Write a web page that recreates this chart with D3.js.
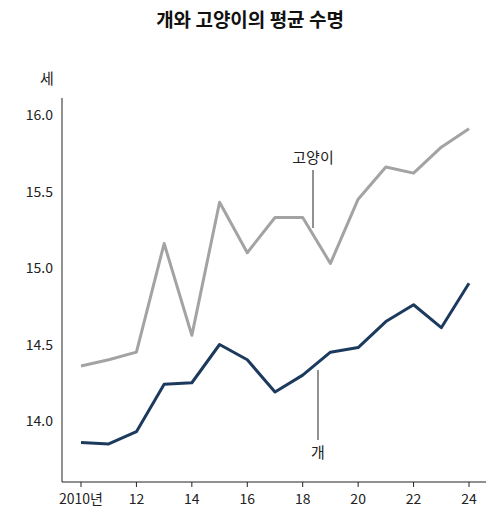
<!DOCTYPE html><html><head><meta charset="utf-8"><script src="https://cdn.jsdelivr.net/npm/d3@7"></script>
<style>body{margin:0;background:#fff;font-family:"Noto Sans CJK KR","Noto Sans",sans-serif}</style></head><body><svg id="c" width="500" height="518"></svg>
<script>
const years=[2010,2011,2012,2013,2014,2015,2016,2017,2018,2019,2020,2021,2022,2023,2024];
const cat=[14.36,14.40,14.45,15.16,14.56,15.43,15.10,15.33,15.33,15.03,15.45,15.66,15.62,15.79,15.91];
const dog=[13.86,13.85,13.93,14.24,14.25,14.50,14.40,14.19,14.30,14.45,14.48,14.65,14.76,14.61,14.90];
const yTicks=[14.0,14.5,15.0,15.5,16.0];
const xTicks=[2010,2012,2014,2016,2018,2020,2022,2024];
const svg=d3.select("#c");
const x=d3.scaleLinear().domain([2010,2024]).range([81,469]);
const y=d3.scaleLinear().domain([14,16]).range([421,115]);
svg.append("text").attr("x",250).attr("y",27).attr("text-anchor","middle").attr("font-size",19).attr("font-weight","bold").attr("fill","#111").text("개와 고양이의 평균 수명");
svg.append("text").attr("x",40).attr("y",84).attr("font-size",15).attr("fill","#222").text("세");
svg.append("line").attr("x1",62).attr("x2",62).attr("y1",98).attr("y2",482).attr("stroke","#222");
svg.append("line").attr("x1",62).attr("x2",486).attr("y1",482).attr("y2",482).attr("stroke","#222");
yTicks.forEach(t=>svg.append("text").attr("x",53).attr("y",y(t)+5).attr("text-anchor","end").attr("font-size",14).attr("fill","#222").text(t.toFixed(1)));
xTicks.forEach(t=>{svg.append("line").attr("x1",x(t)).attr("x2",x(t)).attr("y1",482).attr("y2",487).attr("stroke","#222");
svg.append("text").attr("x",x(t)).attr("y",504).attr("text-anchor","middle").attr("font-size",14).attr("fill","#222").text(t===2010?"2010년":String(t).slice(2));});
const line=d3.line().x((d,i)=>x(years[i])).y(d=>y(d));
svg.append("path").datum(cat).attr("d",line).attr("fill","none").attr("stroke","#a3a3a3").attr("stroke-width",3).attr("stroke-linejoin","round");
svg.append("path").datum(dog).attr("d",line).attr("fill","none").attr("stroke","#1c3a5e").attr("stroke-width",3).attr("stroke-linejoin","round");
svg.append("line").attr("x1",313).attr("x2",313).attr("y1",170).attr("y2",228).attr("stroke","#222");
svg.append("text").attr("x",313).attr("y",163).attr("text-anchor","middle").attr("font-size",15).attr("fill","#222").text("고양이");
svg.append("line").attr("x1",318).attr("x2",318).attr("y1",370).attr("y2",440).attr("stroke","#222");
svg.append("text").attr("x",318).attr("y",458).attr("text-anchor","middle").attr("font-size",15).attr("fill","#222").text("개");
</script></body></html>
